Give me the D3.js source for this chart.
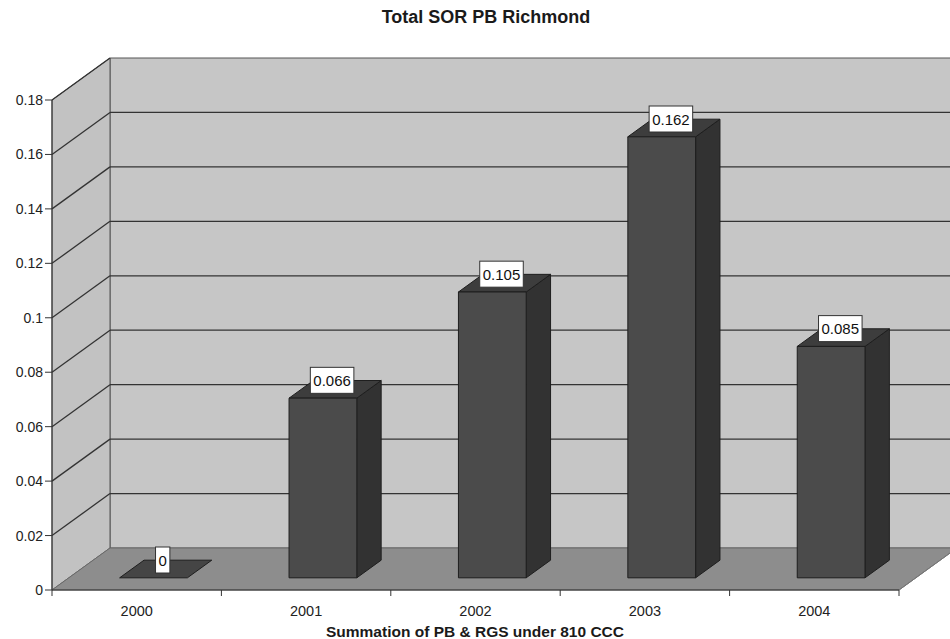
<!DOCTYPE html>
<html>
<head>
<meta charset="utf-8">
<script src="https://cdn.jsdelivr.net/npm/d3@7"></script>
<style>
  html, body { margin: 0; padding: 0; background: #fff; }
  svg { display: block; font-family: "Liberation Sans", Arial, sans-serif; }
</style>
</head>
<body>
<svg id="chart" width="950" height="639"></svg>
<script>
// Chart data
const years = ["2000", "2001", "2002", "2003", "2004"];
const values = [0, 0.066, 0.105, 0.162, 0.085];
const yTicks = [0, 0.02, 0.04, 0.06, 0.08, 0.1, 0.12, 0.14, 0.16, 0.18];
const titleText = "Total SOR PB Richmond";
const xTitleText = "Summation of PB & RGS under 810 CCC";

const svg = d3.select("#chart");

// Front plane scales
const x = d3.scaleBand().domain(years).range([52, 899]);
const y = d3.scaleLinear().domain([0, 0.18]).range([590, 100]);

// Depth projection: z in [0,1] moves a point back into the scene
const DX = 58, DY = -42;
const P = (px, v, z) => [px + DX * z, y(v) + DY * z];
const poly = pts => pts.map(p => p.join(",")).join(" ");

const wallRight = 965;

// Back wall
svg.append("polygon")
  .attr("points", poly([P(x.range()[0], 0, 1), P(x.range()[0], 0.18, 1), [wallRight, y(0.18) + DY], [wallRight, y(0) + DY]]))
  .attr("fill", "#c6c6c6").attr("stroke", "#555").attr("stroke-width", 1);

// Side wall
svg.append("polygon")
  .attr("points", poly([P(52, 0, 0), P(52, 0.18, 0), P(52, 0.18, 1), P(52, 0, 1)]))
  .attr("fill", "#c2c2c2").attr("stroke", "#555").attr("stroke-width", 1);

// Floor
svg.append("polygon")
  .attr("points", poly([P(52, 0, 0), P(899, 0, 0), P(899, 0, 1), P(52, 0, 1)]))
  .attr("fill", "#8d8d8d").attr("stroke", "#6a6a6a").attr("stroke-width", 1);

// Gridlines on walls
const grid = svg.append("g").attr("stroke", "#333").attr("stroke-width", 1.3).attr("fill", "none");
yTicks.filter(v => v > 0).forEach(v => {
  const a = P(52, v, 0), b = P(52, v, 1);
  grid.append("line").attr("x1", a[0]).attr("y1", a[1]).attr("x2", b[0]).attr("y2", b[1]);
  if (v < 0.18) {
    grid.append("line").attr("x1", b[0]).attr("y1", b[1]).attr("x2", wallRight).attr("y2", b[1]);
  }
});

// Bars
const bw = x.bandwidth() / 2.5;
const z0 = 0.29, z1 = 0.71;
const bars = svg.append("g");
years.forEach((yr, i) => {
  const v = values[i];
  const xl = x(yr) + (x.bandwidth() - bw) / 2;
  const xr = xl + bw;
  const g = bars.append("g").attr("stroke", "#1e1e1e").attr("stroke-width", 1).attr("stroke-linejoin", "round");
  if (v > 0) {
    // side face
    g.append("polygon").attr("points", poly([P(xr, 0, z0), P(xr, v, z0), P(xr, v, z1), P(xr, 0, z1)]))
      .attr("fill", "#323232");
    // top face
    g.append("polygon").attr("points", poly([P(xl, v, z0), P(xr, v, z0), P(xr, v, z1), P(xl, v, z1)]))
      .attr("fill", "#3d3d3d");
    // front face
    const f0 = P(xl, v, z0), f1 = P(xr, 0, z0);
    g.append("rect").attr("x", f0[0]).attr("y", f0[1]).attr("width", f1[0] - f0[0]).attr("height", f1[1] - f0[1])
      .attr("fill", "#4b4b4b");
  } else {
    g.append("polygon").attr("points", poly([P(xl, 0, z0), P(xr, 0, z0), P(xr, 0, z1), P(xl, 0, z1)]))
      .attr("fill", "#454545");
  }
});

// Value labels
const labels = svg.append("g");
years.forEach((yr, i) => {
  const v = values[i];
  const cx = x(yr) + x.bandwidth() / 2;
  const c = P(cx, v, (z0 + z1) / 2);
  const t = labels.append("text").text(String(v))
    .attr("font-size", 15).attr("text-anchor", "middle").attr("fill", "#111");
  const w = t.node().getComputedTextLength() + 6;
  const h = 26;
  const bx = c[0] - 3 - w / 2, by = c[1] + 4 - h;
  labels.insert("rect", "text").attr("x", bx).attr("y", by).attr("width", w).attr("height", h)
    .attr("fill", "#fff").attr("stroke", "#333").attr("stroke-width", 1);
  t.attr("x", c[0] - 3).attr("y", by + h / 2 + 5.5);
});

// Value axis
const yAxis = svg.append("g").attr("stroke", "#333");
yAxis.append("line").attr("x1", 52).attr("x2", 52).attr("y1", y(0.18)).attr("y2", y(0));
yTicks.forEach(v => {
  yAxis.append("line").attr("x1", 45).attr("x2", 52).attr("y1", y(v)).attr("y2", y(v));
  svg.append("text").text(String(v)).attr("x", 43).attr("y", y(v) + 5)
    .attr("text-anchor", "end").attr("font-size", 14).attr("fill", "#222");
});

// Category axis
const xAxis = svg.append("g").attr("stroke", "#333");
xAxis.append("line").attr("x1", 52).attr("x2", 899).attr("y1", y(0)).attr("y2", y(0));
const edges = years.map(d => x(d)).concat([x.range()[1]]);
edges.forEach(ex => {
  xAxis.append("line").attr("x1", ex).attr("x2", ex).attr("y1", y(0)).attr("y2", y(0) + 6);
});
// Floor right edge
const fr0 = P(899, 0, 0), fr1 = P(899, 0, 1);
xAxis.append("line").attr("x1", fr0[0]).attr("y1", fr0[1]).attr("x2", fr1[0]).attr("y2", fr1[1]).attr("stroke", "#777");

years.forEach(yr => {
  svg.append("text").text(yr).attr("x", x(yr) + x.bandwidth() / 2).attr("y", 616)
    .attr("text-anchor", "middle").attr("font-size", 14.5).attr("fill", "#222");
});

// Titles
svg.append("text").text(titleText).attr("x", 486).attr("y", 23)
  .attr("text-anchor", "middle").attr("font-size", 18).attr("font-weight", "bold").attr("fill", "#1a1a1a");
svg.append("text").text(xTitleText).attr("x", 475).attr("y", 637)
  .attr("text-anchor", "middle").attr("font-size", 15.5).attr("font-weight", "bold").attr("fill", "#1a1a1a");
</script>
</body>
</html>
